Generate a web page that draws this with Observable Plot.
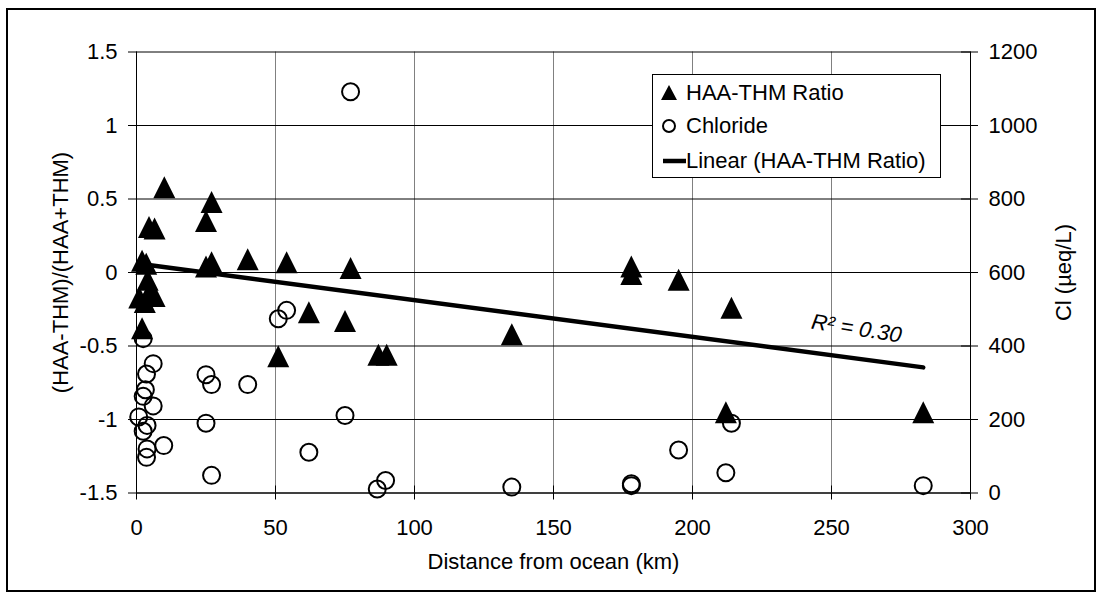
<!DOCTYPE html>
<html>
<head>
<meta charset="utf-8">
<script src="https://cdn.jsdelivr.net/npm/d3@7"></script>
<script src="https://cdn.jsdelivr.net/npm/@observablehq/plot@0.6"></script>
<style>
  body { margin: 0; background: #fff; }
  #chart { position: relative; width: 1102px; height: 611px; font-family: "Liberation Sans", Arial, sans-serif; color: #000; }
  #chart > svg { position: absolute; left: 0; top: 0; }
  #frame { position: absolute; left: 6px; top: 8px; width: 1090px; height: 584px; border: 2px solid #000; box-sizing: border-box; pointer-events: none; }
  #legend { position: absolute; left: 652px; top: 74px; width: 289px; height: 104px; border: 1px solid #000; background: #fff; box-sizing: border-box; }
  #legend .row { position: absolute; left: 0; height: 30px; display: flex; align-items: center; font-size: 22px; white-space: nowrap; }
  #legend svg { width: 33px; height: 30px; flex: none; }
</style>
</head>
<body>
<div id="chart"><div id="frame"></div></div>
<script>
// HAA-THM ratio samples: distance from ocean (km) and (HAA-THM)/(HAA+THM)
const distanceHaa = [10, 27, 25, 4.5, 6.5, 2, 3.5, 27, 25, 40, 54, 77, 4, 5, 1, 3, 6.5, 2,
                     62, 75, 51, 87, 90, 135, 178, 178, 195, 214, 212, 283];
const haaThmRatio = [0.58, 0.48, 0.35, 0.31, 0.30, 0.08, 0.06, 0.07, 0.04, 0.09, 0.07, 0.03,
                     -0.05, -0.12, -0.17, -0.20, -0.16, -0.38, -0.27, -0.33, -0.57, -0.56, -0.56,
                     -0.42, 0.04, -0.01, -0.05, -0.24, -0.95, -0.95];

// Chloride samples: distance from ocean (km) and Cl (µeq/L)
const distanceCl = [2.4, 6, 3.6, 3.2, 2.4, 6, 0.8, 3.8, 2.4, 9.8, 3.8, 3.6, 54, 51, 25, 27, 40,
                    25, 75, 62, 27, 77, 89.6, 86.6, 135, 178, 178, 195, 212, 214, 283];
const chloride = [420, 352, 324, 281, 263, 237, 207, 184, 168, 129, 120, 97, 497, 474, 322, 295,
                  295, 190, 211, 111, 48, 1092, 34, 11, 16, 25, 20, 117, 55, 190, 20];

// Axis ticks
const xTicks = [0, 50, 100, 150, 200, 250, 300];
const yTicks = [-1.5, -1, -0.5, 0, 0.5, 1, 1.5];
const clTicks = [0, 200, 400, 600, 800, 1000, 1200];

// Linear trend of the ratio series
const trendIntercept = 0.062;
const trendSlope = -0.0025;
const trendR2 = "0.30";

const legendItems = ["HAA-THM Ratio", "Chloride", "Linear (HAA-THM Ratio)"];

const yMin = -1.5, yMax = 1.5, clMin = 0, clMax = 1200;
const clToY = c => yMin + (c - clMin) * (yMax - yMin) / (clMax - clMin);
const yToCl = y => Math.round(clMin + (y - yMin) * (clMax - clMin) / (yMax - yMin));
const trend = x => trendIntercept + trendSlope * x;

const haa = distanceHaa.map((d, i) => ({d, r: haaThmRatio[i]}));
const cl = distanceCl.map((d, i) => ({d, c: chloride[i]}));
const trendPts = d3.extent(distanceHaa).map(d => ({d, r: trend(d)}));

// Triangle whose bounding box is centred on the point
const triangle = {
  draw(ctx, size) {
    const r = Math.sqrt(size / Math.PI);
    ctx.moveTo(0, -r);
    ctx.lineTo(r, r);
    ctx.lineTo(-r, r);
    ctx.closePath();
  }
};

const fmt = d => String(d);
const font = 22;

const chart = Plot.plot({
  width: 1102,
  height: 611,
  marginLeft: 136,
  marginRight: 132,
  marginTop: 51.5,
  marginBottom: 118.5,
  style: {fontFamily: "'Liberation Sans', Arial, sans-serif", fontSize: font + "px", color: "#000", background: "transparent", overflow: "visible"},
  x: {domain: [0, 300]},
  y: {domain: [yMin, yMax]},
  marks: [
    Plot.gridX({ticks: xTicks, stroke: "#808080", strokeOpacity: 1}),
    Plot.gridY({ticks: yTicks, stroke: "#000", strokeOpacity: 1}),
    Plot.ruleX([0, 300], {stroke: "#000"}),
    Plot.ruleY([yMin], {stroke: "#000"}),
    // left axis
    Plot.axisY({anchor: "left", ticks: yTicks, tickSize: 8, tickPadding: 11, tickFormat: fmt, label: null}),
    // right (chloride) axis, ticks crossing the line
    Plot.axisY({anchor: "right", ticks: clTicks.map(clToY), tickSize: 7, tickPadding: 11, tickFormat: y => String(yToCl(y)), label: null}),
    Plot.axisY({anchor: "right", ticks: clTicks.map(clToY), tickSize: 10, dx: -10, tickFormat: () => "", label: null}),
    // bottom axis, ticks crossing the line
    Plot.axisX({anchor: "bottom", ticks: xTicks, tickSize: 7, tickPadding: 19, tickFormat: fmt, label: null}),
    Plot.axisX({anchor: "bottom", ticks: xTicks, tickSize: 7, dy: -7, tickFormat: () => "", label: null}),
    // series
    Plot.dot(haa, {x: "d", y: "r", symbol: triangle, r: 11, fill: "#000"}),
    Plot.line(trendPts, {x: "d", y: "r", stroke: "#000", strokeWidth: 4.5}),
    Plot.dot(cl, {x: "d", y: d => clToY(d.c), r: 8.5, stroke: "#000", strokeWidth: 2, fill: "none"}),
    // trend annotation
    Plot.text([259], {x: d => d, y: d => trend(d), text: () => "R\u00b2 = " + trendR2, dy: -30, rotate: 9, fontStyle: "italic", fontSize: font}),
    // axis titles
    Plot.text(["(HAA-THM)/(HAA+THM)"], {frameAnchor: "left", textAnchor: "middle", text: d => d, rotate: -90, dx: -76, fontSize: font}),
    Plot.text(["Cl (\u00b5eq/L)"], {frameAnchor: "right", textAnchor: "middle", text: d => d, rotate: -90, dx: 93, fontSize: font}),
    Plot.text(["Distance from ocean (km)"], {frameAnchor: "bottom", text: d => d, dy: 75.5, fontSize: font})
  ]
});

const root = document.getElementById("chart");
root.insertBefore(chart, root.firstChild);

// Legend box inside the plot area
const legend = document.createElement("div");
legend.id = "legend";
const rowTops = [3, 36, 71];
legendItems.forEach((label, i) => {
  const row = document.createElement("div");
  row.className = "row";
  row.style.top = rowTops[i] + "px";
  let swatch;
  if (i === 0) swatch = '<polygon points="8,22 16,7 24,22" fill="#000"/>';
  else if (i === 1) swatch = '<circle cx="16" cy="15" r="6" fill="none" stroke="#000" stroke-width="2"/>';
  else swatch = '<line x1="10" y1="15" x2="33" y2="15" stroke="#000" stroke-width="4.5"/>';
  row.innerHTML = '<svg viewBox="0 0 33 30">' + swatch + '</svg><span>' + label + '</span>';
  legend.appendChild(row);
});
root.appendChild(legend);
</script>
</body>
</html>
